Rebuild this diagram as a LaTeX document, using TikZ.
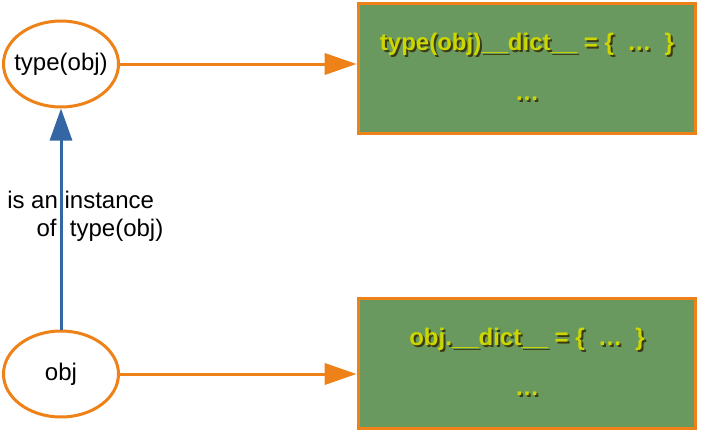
\documentclass[tikz,border=0pt]{standalone}
\usepackage{fontspec}
\setmainfont{Liberation Sans}
\usetikzlibrary{shapes.geometric}
\usetikzlibrary{positioning}
\usetikzlibrary{arrows.meta}
\definecolor{orangec}{RGB}{238,130,24}
\definecolor{greenc}{RGB}{106,153,96}
\definecolor{yellowc}{RGB}{204,214,0}
\definecolor{shadowc}{RGB}{60,60,20}
\definecolor{bluec}{RGB}{52,101,164}
\newcommand{\shtext}[1]{\makebox[0pt][l]{\hspace{1.5pt}\raisebox{-1.5pt}{\color{shadowc}#1}}{\color{yellowc}#1}}
\tikzset{
    objnode/.style = {ellipse, line width=2.25pt, draw=orangec, fill=white, minimum width=86.25pt, minimum height=64.5pt, inner xsep=-12pt, inner ysep=0pt, font=\fontsize{18}{21}\selectfont},
    dictbox/.style = {rectangle, line width=2.25pt, draw=orangec, fill=greenc, minimum width=252.75pt, minimum height=97.5pt},
    dicttext/.style = {font=\fontsize{18}{21}\selectfont\bfseries, inner sep=0pt},
    edgeo/.style = {-{Triangle[length=24pt,width=16pt]}, line width=2.25pt, orangec},
    edgeb/.style = {-{Triangle[length=24pt,width=16.5pt]}, line width=2.25pt, bluec},
    lbl/.style = {align=left, inner sep=0pt, font=\fontsize{18}{21}\selectfont}
}
\begin{document}
\begin{tikzpicture}[x=0.75pt,y=-0.75pt]
\useasboundingbox (0,0) rectangle (704,432);
%
\node[objnode] at (61, 64) (tobj) {type(obj)};
\node[objnode] at (61, 374) (obj) {obj};
\node[dictbox] at (526.5, 68.5) (tdict) {};
\node[dictbox] at (526.5, 363) (odict) {};
%
\node[dicttext] at (527, 45) (tline) {\shtext{type(obj)\_\_dict\_\_ = \{\ \ …\ \ \}}};
\node[dicttext] at (527, 100) (tdots) {\shtext{…}};
\node[dicttext] at (527, 340) (oline) {\shtext{obj.\_\_dict\_\_ = \{\ \ …\ \ \}}};
\node[dicttext] at (527, 395) (odots) {\shtext{…}};
%
\draw[edgeo] (tobj.east) -- (tobj.east -| tdict.west);
\draw[edgeo] (obj.east) -- (obj.east -| odict.west);
\draw[edgeb] (obj.north) -- (tobj.south);
%
\node[lbl, anchor=west] at (7, 216) (inst) {is an instance\\\hspace*{22pt}of\ \ type(obj)};

\end{tikzpicture}
\end{document}
